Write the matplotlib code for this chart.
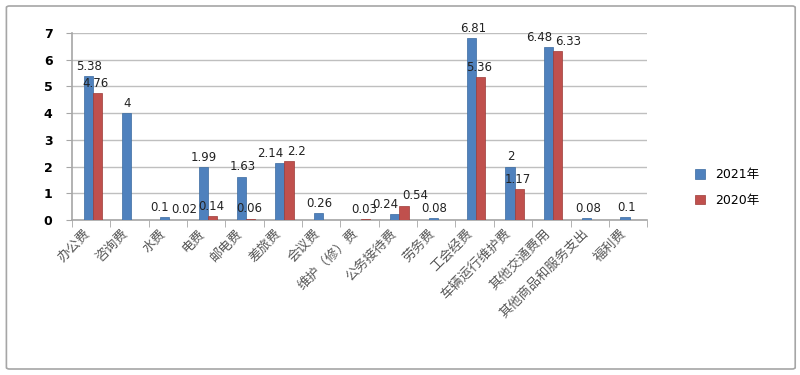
import numpy as np
import matplotlib.pyplot as plt
import matplotlib.transforms as mtransforms
from matplotlib.patches import FancyBboxPatch

plt.rcParams['font.family'] = ['Noto Sans CJK SC', 'DejaVu Sans']

categories = ['办公费', '咨询费', '水费', '电费', '邮电费', '差旅费', '会议费', '维护（修）费',
              '公务接待费', '劳务费', '工会经费', '车辆运行维护费', '其他交通费用',
              '其他商品和服务支出', '福利费']
y2021 = [5.38, 4, 0.1, 1.99, 1.63, 2.14, 0.26, np.nan, 0.24, 0.08, 6.81, 2, 6.48, 0.08, 0.1]
y2020 = [4.76, np.nan, 0.02, 0.14, 0.06, 2.2, np.nan, 0.03, 0.54, np.nan, 5.36, 1.17, 6.33, np.nan, np.nan]
series_names = ['2021年', '2020年']

blue = '#4F81BD'
red = '#C0504D'

fig = plt.figure(figsize=(8, 3.75), dpi=100)
ax = fig.add_axes([0.09, 0.413, 0.719, 0.499])

# outer chart border
fig.patches.append(FancyBboxPatch((0.008, 0.016), 0.986, 0.968, boxstyle='round,pad=0,rounding_size=0.004',
                                  transform=fig.transFigure, fill=False, edgecolor='#A6A6A6', linewidth=1.2))

x = np.arange(len(categories))
w = 0.24
b1 = ax.bar(x - w / 2 + 0.04, y2021, w, color=blue, edgecolor='#3A6AA0', linewidth=0.5, label=series_names[0], zorder=3)
b2 = ax.bar(x + w / 2 + 0.04, y2020, w, color=red, edgecolor='#9C3A37', linewidth=0.5, label=series_names[1], zorder=3)

lab = dict(fontsize=8.5, family='DejaVu Sans', color='#222222', zorder=4, va='bottom')
for xi, v1, v2 in zip(x, y2021, y2020):
    close = not np.isnan(v1) and not np.isnan(v2) and abs(v1 - v2) < 0.45
    if not np.isnan(v1):
        if close:
            ax.text(xi + 0.02, v1 + 0.12, f'{v1:g}', ha='right', **lab)
        else:
            ax.text(xi - 0.05, v1 + 0.12, f'{v1:g}', ha='center', **lab)
    if not np.isnan(v2):
        if close:
            ax.text(xi + 0.1, v2 + 0.12, f'{v2:g}', ha='left', **lab)
        else:
            ax.text(xi + 0.12, v2 + 0.12, f'{v2:g}', ha='center', **lab)

ax.set_xlim(-0.5, len(categories) - 0.5)
ax.set_ylim(0, 7)
ax.set_yticks(range(0, 8))
ax.tick_params(axis='y', labelsize=9, length=4, color='#A6A6A6', pad=10)
for t in ax.get_yticklabels():
    t.set_family('DejaVu Sans')
    t.set_fontweight('bold')
ax.grid(axis='y', color='#BFBFBF', linewidth=1, zorder=0)

ax.set_xticks(x)
ax.set_xticklabels(categories, rotation=45, ha='right', rotation_mode='anchor',
                   fontsize=9.5, color='#595959')
ax.tick_params(axis='x', length=0, pad=5)
shift = mtransforms.ScaledTranslation(-8 / 100, 0, fig.dpi_scale_trans)
for t in ax.get_xticklabels():
    t.set_transform(t.get_transform() + shift)
ax.set_xticks(np.arange(-0.5, len(categories)), minor=True)
ax.tick_params(axis='x', which='minor', length=5, color='#A6A6A6')

for s in ['top', 'right']:
    ax.spines[s].set_visible(False)
ax.spines['left'].set_color('#A6A6A6')
ax.spines['bottom'].set_color('#A6A6A6')
ax.spines['left'].set_linewidth(1.2)
ax.spines['bottom'].set_linewidth(1.2)

fig.legend(handles=[b1, b2], labels=series_names, loc='center left', bbox_to_anchor=(0.855, 0.5),
           frameon=False, handlelength=0.8, handleheight=0.8, labelspacing=1.0,
           prop={'family': ['DejaVu Sans', 'Noto Sans CJK SC'], 'size': 9})

fig.savefig('out.png', dpi=100)
